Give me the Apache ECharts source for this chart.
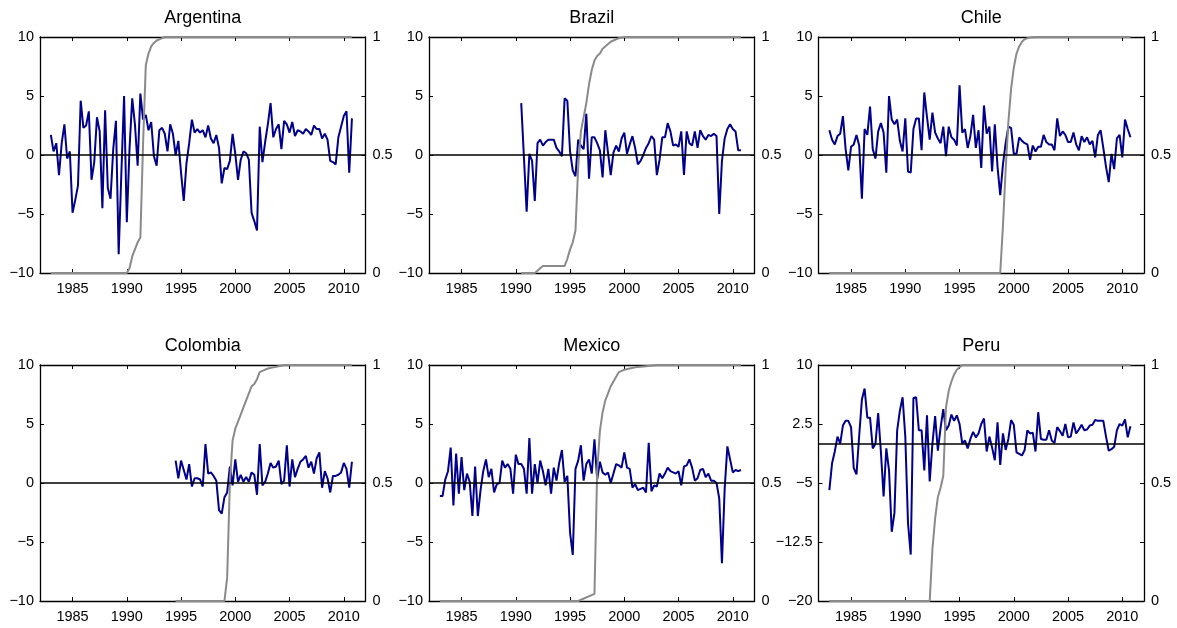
<!DOCTYPE html>
<html><head><meta charset="utf-8">
<script src="https://cdn.jsdelivr.net/npm/echarts@6/dist/echarts.min.js"></script>
<style>html,body{margin:0;padding:0;background:#fff}#c{width:1177px;height:628px}</style>
</head><body><div id="c"></div>
<script>
// ---------- DATA ----------
const countries = ['Argentina', 'Brazil', 'Chile', 'Colombia', 'Mexico', 'Peru'];
const yearTicks = [1985, 1990, 1995, 2000, 2005, 2010];
const growthTicksStd = [-10, -5, 0, 5, 10];
const growthTicksPeru = [-20, -12.5, -5, 2.5, 10];
const probTicks = [0, 0.25, 0.5, 0.75, 1];
const probLabels = [0, 0.5, 1];

// quarterly growth series (first quarter given by start year)
const argentinaStart = 1983;
const argentinaGrowth = [1.7, 0.3, 1.0, -1.7, 1.0, 2.6, -0.3, 0.3, -4.9, -3.8,
  -2.6, 4.6, 2.3, 2.5, 3.7, -2.1, -0.6, 3.2, 2.0, -4.5,
  3.8, -2.8, -3.7, 0.5, 2.9, -8.4, -1.5, 5.0, -5.7, 0.5,
  4.8, 2.6, -0.9, 5.2, 3.0, 3.4, 2.1, 2.8, -0.1, -0.9,
  2.1, 2.3, 1.8, 0.3, 2.6, 1.8, 0.0, 1.2, -1.5, -3.9,
  -0.7, 1.0, 3.0, 1.9, 2.2, 1.9, 2.1, 1.5, 2.5, 1.4,
  1.0, 1.7, 0.6, -2.4, -1.1, -1.2, -0.5, 1.8, 0.1, -2.1,
  -0.4, 0.3, 0.15, -0.4, -4.9, -5.6, -6.4, 2.4, -0.6, 1.1,
  2.6, 4.4, 1.5, 2.2, 2.6, 0.5, 2.9, 2.6, 1.9, 2.8,
  1.6, 2.1, 2.0, 1.8, 2.2, 2.0, 1.7, 2.5, 2.2, 2.2,
  1.4, 1.8, 1.3, -0.5, -0.6, -0.8, 1.5, 2.4, 3.3, 3.7, -1.5, 3.1];
const brazilStart = 1990.5;
const brazilGrowth = [4.4, -0.2, -4.8, 0.1, -0.5, -3.9, 1.0, 1.3, 0.8, 1.1,
  1.3, 1.3, 1.3, 0.6, 0.3, -0.1, 4.8, 4.6, 0.3, -1.3,
  -1.8, 1.3, 0.8, 0.5, 3.5, -2.0, 1.5, 1.5, 1.0, 0.4,
  -1.9, 2.1, 0.2, -1.7, 0.2, 0.8, 0.3, 1.4, 1.9, 0.1,
  0.9, 1.6, 0.6, -0.8, -0.5, 0.0, 0.6, 1.0, 1.6, 1.3,
  -1.7, -0.4, 1.5, 1.5, 2.7, 2.0, 0.8, 0.9, 0.7, 2.0,
  -1.7, 2.0, 1.0, 0.8, 2.0, 0.6, 2.1, 1.6, 1.3, 1.7,
  1.6, 1.8, 1.6, -5.0, -0.5, 1.4, 2.2, 2.6, 2.2, 2.0,
  0.4, 0.4];
const chileStart = 1983;
const chileGrowth = [2.1, 1.3, 0.9, 1.6, 1.8, 3.3, 0.5, -1.3, 0.7, 0.9,
  1.7, 0.8, -3.7, 2.2, 1.7, 4.1, 0.5, -0.3, 2.0, 2.7,
  1.9, -1.5, 5.0, 3.0, 2.6, 3.0, 1.2, 0.3, 3.1, -1.4,
  -1.5, 2.2, 3.1, 3.1, 0.4, 5.3, 3.2, 1.3, 3.6, 1.9,
  1.4, 1.0, 2.4, -0.1, 2.4, 1.5, 1.3, 0.8, 5.9, 1.9,
  2.2, 0.6, 1.6, 3.4, 0.6, 2.1, -1.1, 4.2, 1.8, 2.4,
  -1.4, 2.6, -1.0, -3.4, -0.8, 1.0, 2.4, 2.3, 0.1, 0.1,
  1.5, 1.2, 1.0, 0.9, -0.4, 0.8, 0.3, 0.7, 0.7, 1.7,
  1.1, 0.9, 0.9, 0.4, 3.1, 1.6, 2.0, 1.7, 1.1, 1.1,
  1.9, 0.9, 0.4, 1.6, 1.1, 1.5, 0.9, 1.2, -0.2, 1.7,
  2.1, 0.6, -1.0, -2.3, 0.1, -1.2, 1.4, 1.7, -0.2, 3.0, 2.2, 1.5];
const colombiaStart = 1994.5;
const colombiaGrowth = [1.9, 0.4, 1.9, 1.1, 0.3, 1.6, -0.3, 0.4, 0.4, 0.3,
  -0.3, 3.3, 0.8, 0.9, 0.6, 0.2, -2.3, -2.6, -1.2, -0.8,
  1.4, -0.2, 2.0, 0.1, 0.7, 0.1, 0.5, 0.1, 0.9, 0.7,
  -1.0, 3.3, -0.2, 0.1, 0.8, 1.7, 1.3, 1.4, 1.9, -0.1,
  0.2, 3.2, -0.3, 2.0, 0.5, 1.2, 1.8, 2.0, 2.3, 1.3,
  1.8, 0.8, 2.1, 2.6, -0.4, 1.0, 0.4, -0.8, 0.6, 0.6,
  0.7, 0.9, 1.7, 1.2, -0.4, 1.8];
const mexicoStart = 1983;
const mexicoGrowth = [-1.1, -1.1, 0.3, 1.0, 3.0, -1.9, 2.5, -0.9, 2.2, -0.6,
  0.8, 0.1, -2.8, 1.4, -2.8, -0.6, 1.0, 2.0, 0.5, 1.2,
  -0.8, -0.1, 0.0, 1.9, 1.3, 1.6, 1.2, -0.9, 2.4, 1.6,
  1.6, 1.2, -0.9, 3.8, -0.9, 1.6, 0.0, 1.9, 1.0, -0.2,
  1.2, -0.9, 1.3, 0.2, 1.7, 2.8, 0.1, 0.6, -4.2, -6.1,
  1.2, 1.9, 3.2, 0.2, 1.6, 2.0, 0.8, 3.7, 0.3, 1.8,
  0.9, 0.7, 0.9, 0.0, 0.8, 1.6, 1.5, 1.3, 2.6, 1.3,
  1.2, -0.4, -0.1, -0.6, -0.5, -0.4, -0.8, 3.4, -0.7, -0.2,
  -0.3, 0.8, 0.4, 0.8, 1.3, 1.0, 0.9, 0.8, 1.0, -0.2,
  1.4, 1.5, 2.0, 1.3, 0.2, 0.4, 1.1, 1.2, 0.5, 0.8,
  0.2, 0.2, 0.0, -1.3, -6.8, -0.5, 3.1, 2.0, 0.9, 1.1, 1.0, 1.1];
const peruStart = 1983;
const peruGrowth = [-5.9, -2.5, -1.0, 0.9, 0.0, 2.3, 2.9, 2.9, 2.1, -3.1,
  -3.9, 1.0, 5.6, 7.0, 3.3, 3.3, -0.6, 0.0, 3.9, -1.0,
  -6.7, -0.6, -3.4, -11.2, -8.8, 1.7, 4.2, 5.9, 0.9, -10.1,
  -14.1, 5.8, 5.9, 1.7, 1.7, -3.4, 3.6, -4.8, 0.0, 3.5,
  -0.9, 2.0, 4.4, 1.7, 2.3, 3.7, 2.9, 3.6, 2.5, 0.0,
  0.4, -0.6, 0.6, 1.5, 0.8, 1.3, 2.5, 3.2, -1.0, 0.9,
  -0.5, -2.1, 2.7, -2.7, 1.3, -0.8, 0.6, 3.0, 2.4, -1.1,
  -1.3, -1.5, -0.8, 1.7, 1.3, 1.4, -1.0, 4.0, 0.6, 0.5,
  0.5, 1.7, 0.4, 0.1, 2.1, 1.6, 1.0, 2.5, 0.8, 0.9,
  2.7, 1.3, 1.8, 2.4, 1.7, 1.8, 2.3, 2.4, 3.0, 2.9,
  2.9, 2.9, 0.9, -0.9, -0.7, -0.4, 1.7, 2.5, 2.3, 3.1, 0.8, 2.2];

// regime probability (right axis), read at dates
const argentinaProbYears = [1983, 1990, 1990.25, 1990.5, 1990.75, 1991, 1991.25, 1991.5, 1991.75, 1992, 1992.25, 1992.5, 1992.75, 1993, 1993.25, 1993.5, 2010.75];
const argentinaProb = [0, 0, 0.02, 0.07, 0.1, 0.13, 0.15, 0.55, 0.88, 0.93, 0.96, 0.975, 0.985, 0.99, 0.995, 1, 1];
const brazilProbYears = [1990.5, 1991.75, 1992, 1992.25, 1992.5, 1994.5, 1994.75, 1995, 1995.25, 1995.5, 1995.75, 1996, 1996.25, 1996.5, 1996.75, 1997, 1997.25, 1997.5, 1997.75, 1998, 1998.25, 1998.5, 1998.75, 1999, 1999.25, 1999.5, 2000, 2010.75];
const brazilProb = [0, 0, 0.01, 0.02, 0.03, 0.03, 0.06, 0.1, 0.13, 0.18, 0.45, 0.6, 0.66, 0.72, 0.8, 0.86, 0.9, 0.92, 0.93, 0.95, 0.96, 0.97, 0.98, 0.985, 0.99, 0.995, 1, 1];
const chileProbYears = [1983, 1998.75, 1999, 1999.25, 1999.5, 1999.75, 2000, 2000.25, 2000.5, 2000.75, 2001, 2001.25, 2001.5, 2002, 2010.75];
const chileProb = [0, 0, 0.2, 0.44, 0.64, 0.78, 0.87, 0.93, 0.96, 0.98, 0.99, 0.995, 0.998, 1, 1];
const colombiaProbYears = [1994.5, 1999, 1999.25, 1999.5, 1999.75, 2000, 2000.25, 2000.5, 2000.75, 2001, 2001.25, 2001.5, 2001.75, 2002, 2002.25, 2002.5, 2003, 2003.5, 2004, 2004.5, 2010.75];
const colombiaProb = [0, 0, 0.1, 0.5, 0.68, 0.73, 0.76, 0.79, 0.82, 0.85, 0.88, 0.91, 0.92, 0.94, 0.97, 0.975, 0.985, 0.99, 0.995, 1, 1];
const mexicoProbYears = [1983, 1995.75, 1997.25, 1997.5, 1997.75, 1998, 1998.25, 1998.5, 1998.75, 1999, 1999.25, 1999.5, 1999.75, 2000, 2000.5, 2001, 2002, 2003, 2010.75];
const mexicoProb = [0, 0, 0.03, 0.55, 0.72, 0.8, 0.85, 0.88, 0.91, 0.93, 0.95, 0.97, 0.975, 0.98, 0.985, 0.99, 0.995, 1, 1];
const peruProbYears = [1983, 1992.25, 1992.5, 1992.75, 1993, 1993.25, 1993.5, 1993.75, 1994, 1994.25, 1994.5, 1994.75, 1995, 1995.25, 2010.75];
const peruProb = [0, 0, 0.22, 0.35, 0.44, 0.48, 0.53, 0.82, 0.89, 0.93, 0.96, 0.98, 0.99, 1, 1];

// ---------- CHART ----------
const panels = [
  {start: argentinaStart, growth: argentinaGrowth, py: argentinaProbYears, p: argentinaProb, min: -10, max: 10, ticks: growthTicksStd},
  {start: brazilStart, growth: brazilGrowth, py: brazilProbYears, p: brazilProb, min: -10, max: 10, ticks: growthTicksStd},
  {start: chileStart, growth: chileGrowth, py: chileProbYears, p: chileProb, min: -10, max: 10, ticks: growthTicksStd},
  {start: colombiaStart, growth: colombiaGrowth, py: colombiaProbYears, p: colombiaProb, min: -10, max: 10, ticks: growthTicksStd},
  {start: mexicoStart, growth: mexicoGrowth, py: mexicoProbYears, p: mexicoProb, min: -10, max: 10, ticks: growthTicksStd},
  {start: peruStart, growth: peruGrowth, py: peruProbYears, p: peruProb, min: -20, max: 10, ticks: growthTicksPeru}
];

const FONT = "'Liberation Sans', Arial, Helvetica, sans-serif";
const colLeft = [40, 429, 818.5];
const rowTop = [37, 365];
const W = 325.5, H = 236;
const fmt = v => String(v).replace('-', '\u2212');
const axisLine = {show: true, onZero: false, lineStyle: {color: '#000', width: 1.3}};
const tick = vals => ({show: true, inside: true, length: 4, customValues: vals, lineStyle: {color: '#000', width: 1}});

const option = {
  animation: false,
  backgroundColor: '#fff',
  title: [], grid: [], xAxis: [], yAxis: [], series: []
};

panels.forEach((pn, i) => {
  const c = i % 3, r = Math.floor(i / 3);
  const gl = colLeft[c], gt = rowTop[r];
  option.title.push({
    text: countries[i], left: gl + W / 2, top: gt - 28, textAlign: 'center', padding: 0,
    textStyle: {fontSize: 18, fontWeight: 'normal', color: '#000', fontFamily: FONT}
  });
  option.grid.push({left: gl, top: gt, width: W, height: H});
  option.xAxis.push({
    gridIndex: i, type: 'value', min: 1982, max: 2012, position: 'bottom',
    axisLine, axisTick: tick(yearTicks), splitLine: {show: false},
    axisLabel: {customValues: yearTicks, formatter: v => String(v), margin: 8, fontSize: 14.5, color: '#000', fontFamily: FONT}
  });
  option.xAxis.push({
    gridIndex: i, type: 'value', min: 1982, max: 2012, position: 'top',
    axisLine, axisTick: tick(yearTicks), splitLine: {show: false}, axisLabel: {show: false}
  });
  option.yAxis.push({
    gridIndex: i, type: 'value', min: pn.min, max: pn.max, position: 'left',
    axisLine, axisTick: tick(pn.ticks), splitLine: {show: false},
    axisLabel: {customValues: pn.ticks, formatter: fmt, margin: 6, fontSize: 14.5, color: '#000', fontFamily: FONT}
  });
  option.yAxis.push({
    gridIndex: i, type: 'value', min: 0, max: 1, position: 'right',
    axisLine, axisTick: tick(probTicks), splitLine: {show: false},
    axisLabel: {customValues: probLabels, formatter: v => String(v), margin: 7, fontSize: 14.5, color: '#000', fontFamily: FONT}
  });
  option.series.push({
    type: 'line', xAxisIndex: 2 * i, yAxisIndex: 2 * i, z: 2,
    data: pn.growth.map((v, j) => [pn.start + j * 0.25, v]),
    showSymbol: false, silent: true,
    lineStyle: {color: '#00008a', width: 2},
    markLine: {silent: true, symbol: 'none', label: {show: false},
      lineStyle: {color: '#000', width: 1.5, type: 'solid'}, data: [{yAxis: 0}]}
  });
  option.series.push({
    type: 'line', xAxisIndex: 2 * i, yAxisIndex: 2 * i + 1, z: 3,
    data: pn.py.map((y, j) => [y, pn.p[j]]),
    showSymbol: false, silent: true,
    lineStyle: {color: '#8a8a8a', width: 2}
  });
});

const chart = echarts.init(document.getElementById('c'));
chart.setOption(option);
</script>
</body></html>
